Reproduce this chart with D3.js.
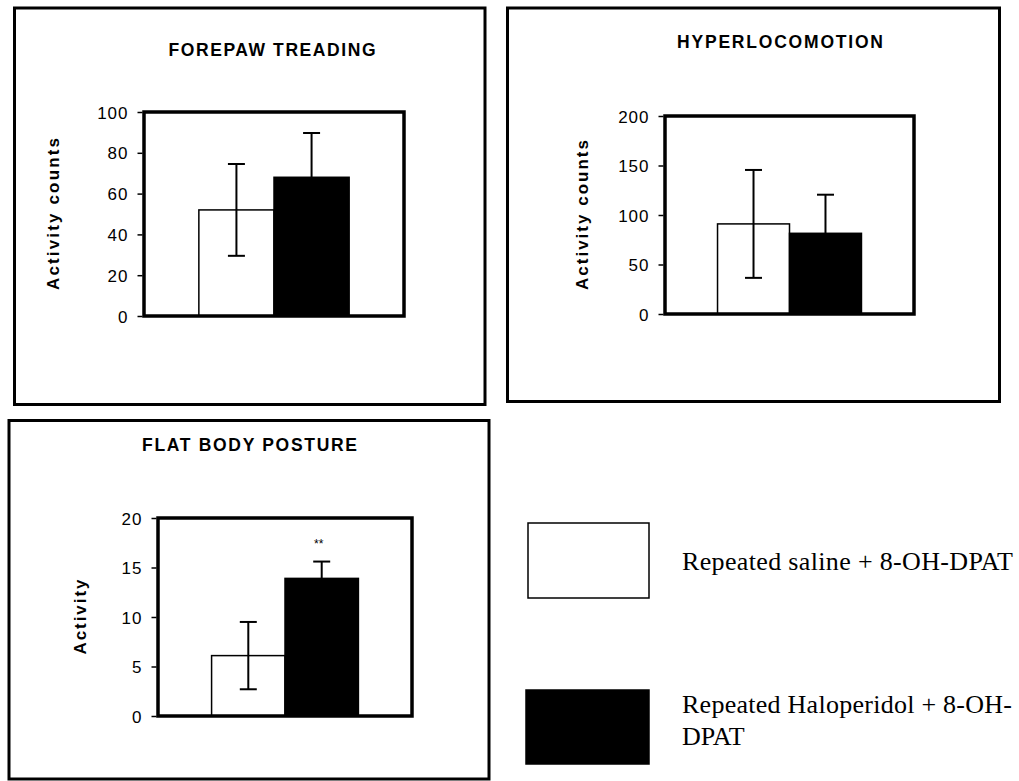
<html>
<head>
<meta charset="utf-8">
<style>
  body { margin: 0; background: #fff; }
</style>
</head>
<body>
<svg width="1019" height="781"></svg>

<script src="https://d3js.org/d3.v7.min.js"></script>
<script>
// two treatment groups, same for every panel
var groups = ["Repeated saline + 8-OH-DPAT", "Repeated Haloperidol + 8-OH-DPAT"]
var groupKeys = ["saline", "haloperidol"]

var panelTitles = ["FOREPAW TREADING", "HYPERLOCOMOTION", "FLAT BODY POSTURE"]
var yLabels = ["Activity counts", "Activity counts", "Activity"]
var yMax = [100, 200, 20]
var yTicks = [
  [0, 20, 40, 60, 80, 100],
  [0, 50, 100, 150, 200],
  [0, 5, 10, 15, 20]
]

// means and SEM
var salineMeans = [52, 91, 6.1]
var salineErr = [22.5, 54.5, 3.4]
var haloMeans = [68, 81.5, 13.9]
var haloErr = [21.7, 39, 1.7]
var significance = ["", "", "**"]

// where each panel sits on the page
var layout = [
  { box: [14.5, 8, 485, 404.5], plot: [144, 112, 404, 316], titleX: 272, titleY: 56, titleLen: 207, labX: 59, labLen: 152 },
  { box: [507.5, 8, 999.5, 401.5], plot: [665, 116, 914, 314], titleX: 780, titleY: 48, titleLen: 206, labX: 588, labLen: 150 },
  { box: [9, 420.5, 489, 779], plot: [158, 518, 412, 716], titleX: 249.5, titleY: 451, titleLen: 215, labX: 86, labLen: 75 }
]

var svg = d3.select("svg")
var sans = "'Liberation Sans', Arial, sans-serif"
var serif = "'Liberation Serif', 'Times New Roman', serif"

panelTitles.forEach(function (title, i) {
  var L = layout[i]
  var g = svg.append("g")

  // outer frame of the panel
  g.append("rect")
    .attr("x", L.box[0]).attr("y", L.box[1])
    .attr("width", L.box[2] - L.box[0]).attr("height", L.box[3] - L.box[1])
    .attr("fill", "none").attr("stroke", "#000").attr("stroke-width", 3)

  g.append("text")
    .attr("x", L.titleX).attr("y", L.titleY)
    .attr("text-anchor", "middle")
    .attr("font-family", sans).attr("font-weight", "bold").attr("font-size", 17.5)
    .attr("textLength", L.titleLen).attr("lengthAdjust", "spacing")
    .text(title)

  var x = d3.scaleBand()
    .domain(groupKeys)
    .range([L.plot[0], L.plot[2]])
    .paddingInner(0)
    .paddingOuter(0.73)

  var y = d3.scaleLinear()
    .domain([0, yMax[i]])
    .range([L.plot[3], L.plot[1]])

  var rows = [
    { key: "saline", mean: salineMeans[i], err: salineErr[i] },
    { key: "haloperidol", mean: haloMeans[i], err: haloErr[i] }
  ]

  // bars
  g.selectAll("rect.bar").data(rows).enter().append("rect")
    .attr("class", "bar")
    .attr("x", function (d) { return x(d.key) })
    .attr("y", function (d) { return y(d.mean) })
    .attr("width", x.bandwidth())
    .attr("height", function (d) { return y(0) - y(d.mean) })
    .attr("fill", function (d) { return d.key === "saline" ? "#fff" : "#000" })
    .attr("stroke", "#000").attr("stroke-width", 1.5)

  // error bars
  var eb = g.selectAll("g.err").data(rows).enter().append("g").attr("class", "err")
    .attr("stroke", "#000").attr("stroke-width", 2)
  eb.append("line")
    .attr("x1", function (d) { return x(d.key) + x.bandwidth() / 2 })
    .attr("x2", function (d) { return x(d.key) + x.bandwidth() / 2 })
    .attr("y1", function (d) { return y(d.mean - d.err) })
    .attr("y2", function (d) { return y(d.mean + d.err) })
  eb.append("line")
    .attr("x1", function (d) { return x(d.key) + x.bandwidth() / 2 - 8.5 })
    .attr("x2", function (d) { return x(d.key) + x.bandwidth() / 2 + 8.5 })
    .attr("y1", function (d) { return y(d.mean + d.err) })
    .attr("y2", function (d) { return y(d.mean + d.err) })
  eb.filter(function (d) { return d.key === "saline" }).append("line")
    .attr("x1", function (d) { return x(d.key) + x.bandwidth() / 2 - 8.5 })
    .attr("x2", function (d) { return x(d.key) + x.bandwidth() / 2 + 8.5 })
    .attr("y1", function (d) { return y(d.mean - d.err) })
    .attr("y2", function (d) { return y(d.mean - d.err) })

  if (significance[i]) {
    g.append("text")
      .attr("x", x("haloperidol") + x.bandwidth() / 2 - 3)
      .attr("y", y(haloMeans[i] + haloErr[i]) - 14)
      .attr("text-anchor", "middle")
      .attr("font-family", sans).attr("font-size", 12)
      .text(significance[i])
  }

  // plot frame
  g.append("rect")
    .attr("x", L.plot[0]).attr("y", L.plot[1])
    .attr("width", L.plot[2] - L.plot[0]).attr("height", L.plot[3] - L.plot[1])
    .attr("fill", "none").attr("stroke", "#000").attr("stroke-width", 3.5)

  // y axis
  var ax = g.append("g")
    .attr("transform", "translate(" + (L.plot[0] - 1.5) + ",0)")
    .call(d3.axisLeft(y).tickValues(yTicks[i]).tickSize(5).tickPadding(9))
  ax.select(".domain").remove()
  ax.selectAll(".tick line").attr("stroke-width", 1.5)
  ax.selectAll(".tick text")
    .attr("font-family", sans).attr("font-size", 17)
    .attr("letter-spacing", 1).attr("fill", "#000")
    .attr("dy", "0.36em")

  g.append("text")
    .attr("transform", "translate(" + L.labX + "," + (L.plot[1] + L.plot[3]) / 2 + ") rotate(-90)")
    .attr("text-anchor", "middle")
    .attr("font-family", sans).attr("font-weight", "bold").attr("font-size", 17)
    .attr("textLength", L.labLen).attr("lengthAdjust", "spacing")
    .text(yLabels[i])
})

// legend
var legendBoxes = [[528, 523, 649, 598], [526, 690, 649, 764]]
var legend = svg.append("g")
legend.selectAll("rect").data(groupKeys).enter().append("rect")
  .attr("x", function (d, i) { return legendBoxes[i][0] })
  .attr("y", function (d, i) { return legendBoxes[i][1] })
  .attr("width", function (d, i) { return legendBoxes[i][2] - legendBoxes[i][0] })
  .attr("height", function (d, i) { return legendBoxes[i][3] - legendBoxes[i][1] })
  .attr("fill", function (d) { return d === "saline" ? "#fff" : "#000" })
  .attr("stroke", "#000").attr("stroke-width", 1.5)

legend.append("text")
  .attr("x", 682).attr("y", 570)
  .attr("font-family", serif).attr("font-size", 26)
  .attr("textLength", 331).attr("lengthAdjust", "spacing")
  .text(groups[0])

var second = legend.append("text")
  .attr("font-family", serif).attr("font-size", 26)
second.append("tspan").attr("x", 682).attr("y", 713)
  .attr("textLength", 330).attr("lengthAdjust", "spacing")
  .text(groups[1].replace("DPAT", ""))
second.append("tspan").attr("x", 682).attr("y", 745)
  .text("DPAT")
</script>
</body>
</html>
